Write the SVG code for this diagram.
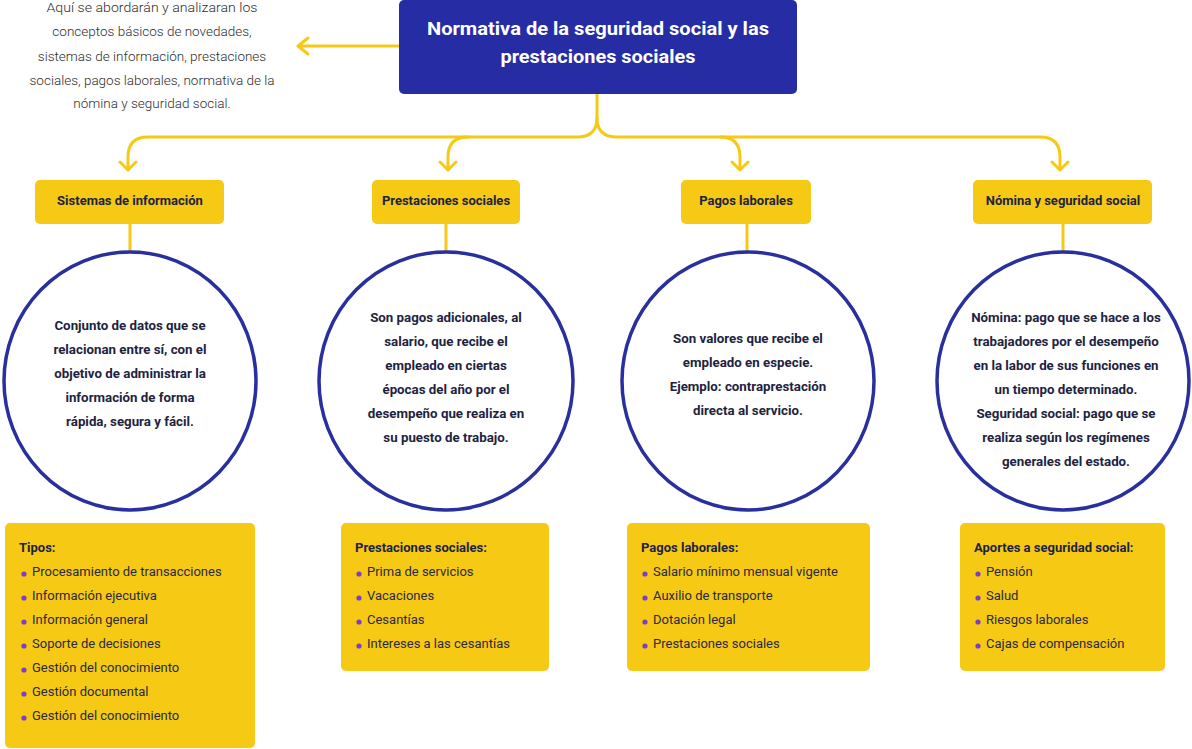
<svg xmlns="http://www.w3.org/2000/svg" width="1192" height="749" viewBox="0 0 1192 749">
<style>
.conn{fill:none;stroke:#F6C915;stroke-width:3;stroke-linecap:round;stroke-linejoin:round}
.lbl{fill:#F6C915}
.lbltxt{font-family:Roboto,"Liberation Sans",sans-serif;font-weight:bold;font-size:13px;fill:#1d2340;text-anchor:middle}
.circ{fill:#fff;stroke:#2A2F9E;stroke-width:3.5}
.ctxt{font-family:Roboto,"Liberation Sans",sans-serif;font-weight:bold;font-size:13.3px;fill:#1d2340;text-anchor:middle}
.box{fill:#F6C915}
.bh{font-family:Roboto,"Liberation Sans",sans-serif;font-weight:bold;font-size:13px;fill:#1d2340}
.bi{font-family:Roboto,"Liberation Sans",sans-serif;font-size:13px;fill:#2a2a3a}
.dot{fill:#7B3FC4}
.desc{font-family:Roboto,"Liberation Sans",sans-serif;font-weight:300;font-size:13.5px;fill:#2e2e2e;text-anchor:middle}
.ttl{font-family:Roboto,"Liberation Sans",sans-serif;font-weight:bold;font-size:19px;fill:#fff;text-anchor:middle}
</style>
<rect width="1192" height="749" fill="#fff"/>
<g id="connectors">
<path class="conn" d="M399 46 H298 M308 38 L298 46 L308 54"/>
<path class="conn" d="M597 94 V118 Q597 137 577 137 H148 Q128 137 128 157 V170 M120 162 L128 170 L136 162"/>
<path class="conn" d="M597 118 Q597 137 617 137 H1040 Q1060 137 1060 157 V170 M1052 162 L1060 170 L1068 162"/>
<path class="conn" d="M468 137 Q448 137 448 157 V170 M440 162 L448 170 L456 162"/>
<path class="conn" d="M720 137 Q740 137 740 157 V170 M732 162 L740 170 L748 162"/>
<path class="conn" d="M130 224 V252 M446 224 V252 M747 224 V252 M1063 224 V252"/>
</g>
<g id="desc">
<text class="desc" x="152" y="12" textLength="211" lengthAdjust="spacingAndGlyphs">Aquí se abordarán y analizaran los</text>
<text class="desc" x="152" y="36">conceptos básicos de novedades,</text>
<text class="desc" x="152" y="61">sistemas de información, prestaciones</text>
<text class="desc" x="152" y="85">sociales, pagos laborales, normativa de la</text>
<text class="desc" x="152" y="108">nómina y seguridad social.</text>
</g>
<g id="title">
<rect x="399" y="0" width="398" height="94" rx="5" fill="#262CA3"/>
<text class="ttl" x="598" y="35" textLength="342" lengthAdjust="spacingAndGlyphs">Normativa de la seguridad social y las</text>
<text class="ttl" x="598" y="63" textLength="195" lengthAdjust="spacingAndGlyphs">prestaciones sociales</text>
</g>
<g id="lbl-sistemas">
<rect class="lbl" x="35" y="180" width="189" height="44" rx="5"/>
<text class="lbltxt" x="130" y="205">Sistemas de información</text>
</g>
<g id="lbl-prestaciones">
<rect class="lbl" x="372" y="180" width="148" height="44" rx="5"/>
<text class="lbltxt" x="446" y="205">Prestaciones sociales</text>
</g>
<g id="lbl-pagos">
<rect class="lbl" x="681" y="180" width="130" height="44" rx="5"/>
<text class="lbltxt" x="746" y="205">Pagos laborales</text>
</g>
<g id="lbl-nomina">
<rect class="lbl" x="973" y="180" width="179" height="44" rx="5"/>
<text class="lbltxt" x="1063" y="205">Nómina y seguridad social</text>
</g>
<g id="circle-sistemas">
<ellipse class="circ" cx="130" cy="381" rx="126" ry="129"/>
<text class="ctxt" x="130" y="330">Conjunto de datos que se</text>
<text class="ctxt" x="130" y="354">relacionan entre sí, con el</text>
<text class="ctxt" x="130" y="378">objetivo de administrar la</text>
<text class="ctxt" x="130" y="402">información de forma</text>
<text class="ctxt" x="130" y="426">rápida, segura y fácil.</text>
</g>
<g id="circle-prestaciones">
<ellipse class="circ" cx="446" cy="381" rx="127" ry="129"/>
<text class="ctxt" x="446" y="322">Son pagos adicionales, al</text>
<text class="ctxt" x="446" y="346">salario, que recibe el</text>
<text class="ctxt" x="446" y="370">empleado en ciertas</text>
<text class="ctxt" x="446" y="394">épocas del año por el</text>
<text class="ctxt" x="446" y="418">desempeño que realiza en</text>
<text class="ctxt" x="446" y="442">su puesto de trabajo.</text>
</g>
<g id="circle-pagos">
<ellipse class="circ" cx="748" cy="381" rx="126" ry="129"/>
<text class="ctxt" x="748" y="343">Son valores que recibe el</text>
<text class="ctxt" x="748" y="367">empleado en especie.</text>
<text class="ctxt" x="748" y="391">Ejemplo: contraprestación</text>
<text class="ctxt" x="748" y="415">directa al servicio.</text>
</g>
<g id="circle-nomina">
<ellipse class="circ" cx="1063" cy="381" rx="126" ry="129"/>
<text class="ctxt" x="1066" y="322">Nómina: pago que se hace a los</text>
<text class="ctxt" x="1066" y="346">trabajadores por el desempeño</text>
<text class="ctxt" x="1066" y="370">en la labor de sus funciones en</text>
<text class="ctxt" x="1066" y="394">un tiempo determinado.</text>
<text class="ctxt" x="1066" y="418">Seguridad social: pago que se</text>
<text class="ctxt" x="1066" y="442">realiza según los regímenes</text>
<text class="ctxt" x="1066" y="466">generales del estado.</text>
</g>
<g id="box-tipos">
<rect class="box" x="5" y="523" width="250" height="225" rx="5"/>
<text class="bh" x="19" y="552">Tipos:</text>
<circle class="dot" cx="24" cy="574" r="2.6"/><text class="bi" x="32" y="576">Procesamiento de transacciones</text>
<circle class="dot" cx="24" cy="598" r="2.6"/><text class="bi" x="32" y="600">Información ejecutiva</text>
<circle class="dot" cx="24" cy="622" r="2.6"/><text class="bi" x="32" y="624">Información general</text>
<circle class="dot" cx="24" cy="646" r="2.6"/><text class="bi" x="32" y="648">Soporte de decisiones</text>
<circle class="dot" cx="24" cy="670" r="2.6"/><text class="bi" x="32" y="672">Gestión del conocimiento</text>
<circle class="dot" cx="24" cy="694" r="2.6"/><text class="bi" x="32" y="696">Gestión documental</text>
<circle class="dot" cx="24" cy="718" r="2.6"/><text class="bi" x="32" y="720">Gestión del conocimiento</text>
</g>
<g id="box-prestaciones">
<rect class="box" x="341" y="523" width="208" height="148" rx="5"/>
<text class="bh" x="355" y="552">Prestaciones sociales:</text>
<circle class="dot" cx="359" cy="574" r="2.6"/><text class="bi" x="367" y="576">Prima de servicios</text>
<circle class="dot" cx="359" cy="598" r="2.6"/><text class="bi" x="367" y="600">Vacaciones</text>
<circle class="dot" cx="359" cy="622" r="2.6"/><text class="bi" x="367" y="624">Cesantías</text>
<circle class="dot" cx="359" cy="646" r="2.6"/><text class="bi" x="367" y="648">Intereses a las cesantías</text>
</g>
<g id="box-pagos">
<rect class="box" x="627" y="523" width="243" height="148" rx="5"/>
<text class="bh" x="641" y="552">Pagos laborales:</text>
<circle class="dot" cx="645" cy="574" r="2.6"/><text class="bi" x="653" y="576">Salario mínimo mensual vigente</text>
<circle class="dot" cx="645" cy="598" r="2.6"/><text class="bi" x="653" y="600">Auxilio de transporte</text>
<circle class="dot" cx="645" cy="622" r="2.6"/><text class="bi" x="653" y="624">Dotación legal</text>
<circle class="dot" cx="645" cy="646" r="2.6"/><text class="bi" x="653" y="648">Prestaciones sociales</text>
</g>
<g id="box-aportes">
<rect class="box" x="960" y="523" width="205" height="148" rx="5"/>
<text class="bh" x="974" y="552">Aportes a seguridad social:</text>
<circle class="dot" cx="978" cy="574" r="2.6"/><text class="bi" x="986" y="576">Pensión</text>
<circle class="dot" cx="978" cy="598" r="2.6"/><text class="bi" x="986" y="600">Salud</text>
<circle class="dot" cx="978" cy="622" r="2.6"/><text class="bi" x="986" y="624">Riesgos laborales</text>
<circle class="dot" cx="978" cy="646" r="2.6"/><text class="bi" x="986" y="648">Cajas de compensación</text>
</g>
</svg>
